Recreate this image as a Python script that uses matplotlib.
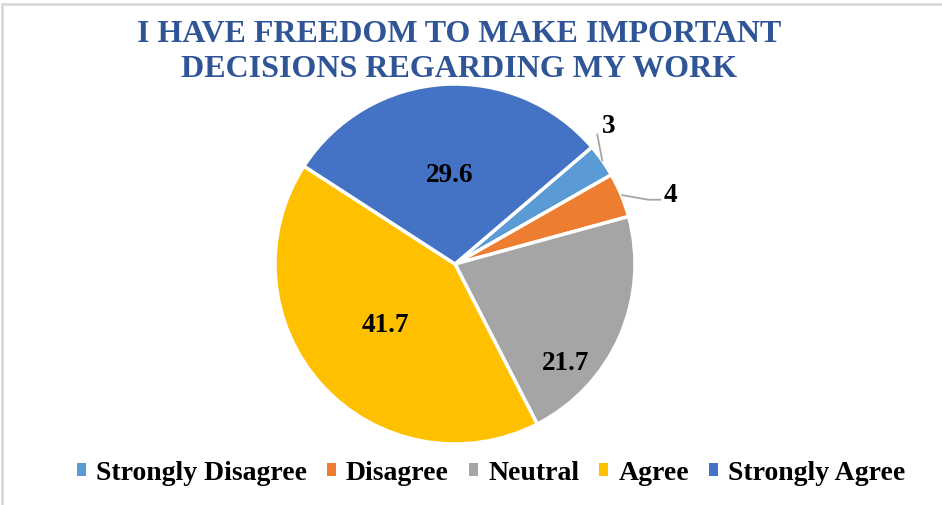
import matplotlib
matplotlib.use("Agg")
import matplotlib.pyplot as plt
import numpy as np
from matplotlib.patches import Patch, Rectangle

# Survey responses (percent)
categories = ["Strongly Disagree", "Disagree", "Neutral", "Agree", "Strongly Agree"]
values = [3, 4, 21.7, 41.7, 29.6]
value_labels = ["3", "4", "21.7", "41.7", "29.6"]
title = "I HAVE FREEDOM TO MAKE IMPORTANT\nDECISIONS REGARDING MY WORK"

colors = ["#5B9BD5", "#ED7D31", "#A5A5A5", "#FFC000", "#4472C4"]

W, H, DPI = 942, 506, 100
plt.rcParams["font.family"] = ["Liberation Serif", "DejaVu Serif"]

fig = plt.figure(figsize=(W / DPI, H / DPI), dpi=DPI)
fig.patch.set_facecolor("white")

# Axes in pixel units (y measured upward)
ax = fig.add_axes([0, 0, 1, 1])

cx, cy, R = 455, H - 265, 180
wedges, _ = ax.pie(values, colors=colors, startangle=40.5, counterclock=False,
                   center=(cx, cy), radius=R, frame=True,
                   wedgeprops=dict(edgecolor="white", linewidth=2.5))
ax.set_xlim(0, W)
ax.set_ylim(0, H)
ax.set_aspect("equal")
ax.axis("off")

label_kw = dict(fontsize=19.5, fontweight="bold", color="black",
                ha="center", va="center")

def polar(angle, r):
    a = np.deg2rad(angle)
    return cx + r * np.cos(a), cy + r * np.sin(a)

# Inside labels: (angle offset from wedge middle, radial fraction)
inside = {2: (-18.0, 0.82), 3: (-1.0, 0.51), 4: (-0.3, 0.50)}
for i, (off, frac) in inside.items():
    w = wedges[i]
    mid = (w.theta1 + w.theta2) / 2
    ax.text(*polar(mid + off, frac * R), value_labels[i], **label_kw)

# Outside labels with leader lines
line_kw = dict(color="#A6A6A6", linewidth=1.3)
w = wedges[0]
mid = (w.theta1 + w.theta2) / 2
x0, y0 = polar(mid, R)
ax.plot([x0, x0 - 5], [y0, y0 + 26], **line_kw)
ax.text(x0 + 6, y0 + 35, value_labels[0], **label_kw)

w = wedges[1]
mid = (w.theta1 + w.theta2) / 2
x0, y0 = polar(mid, R)
ax.plot([x0 + 1, x0 + 27, x0 + 39], [y0, y0 - 4.6, y0 - 4.6], **line_kw)
ax.text(x0 + 49, y0 + 1, value_labels[1], **label_kw)

# Title
fig.text(459.5 / W, 1 - 20.5 / H, title, ha="center", va="top",
         fontsize=23, fontweight="bold", color="#2F5597", linespacing=1.25)

# Legend
handles = [Patch(facecolor=c, edgecolor="none") for c in colors]
fig.legend(handles, categories, loc="center", bbox_to_anchor=(491 / W, 1 - 474 / H),
           ncol=5, frameon=False, handlelength=0.33, handleheight=0.33,
           handletextpad=0.36, columnspacing=0.72,
           prop=dict(size=20, weight="bold"))

# Chart area border
fig.patches.append(Rectangle((1.5 / W, -0.1), 1.2, 1.1 - 4.5 / H,
                             transform=fig.transFigure, fill=False,
                             edgecolor="#D9D9D9", linewidth=2))

fig.savefig("out.png", dpi=DPI, facecolor="white")
